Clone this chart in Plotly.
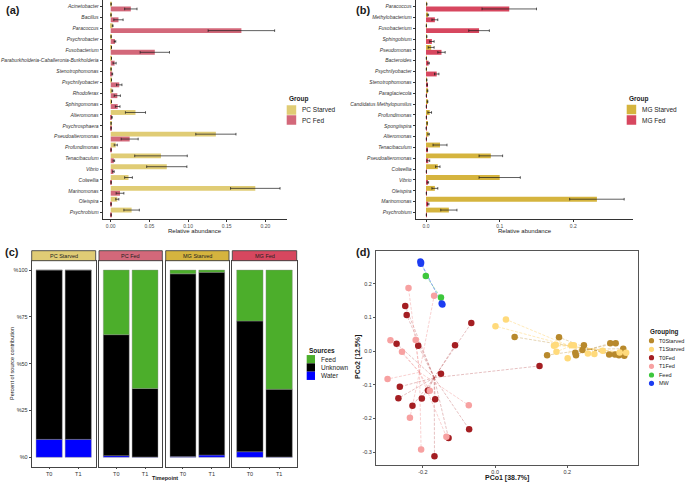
import numpy as np
import plotly.graph_objects as go

W, H = 685, 482
FONT = "Liberation Sans"

# ---------------- data ----------------
genera_a = ["Acinetobacter", "Bacillus", "Paracoccus", "Psychrobacter", "Fusobacterium",
            "Paraburkholderia-Caballeronia-Burkholderia", "Stenotrophomonas", "Psychrilyobacter",
            "Rhodoferax", "Sphingomonas", "Alteromonas", "Psychrosphaera", "Pseudoalteromonas",
            "Profundimonas", "Tenacibaculum", "Vibrio", "Colwellia", "Marinomonas", "Oleispira",
            "Psychrobium"]
pc_starved = [0.0005, 0.0004, 0.0025, 0.0005, 0.001, 0.001, 0.0005, 0.001, 0.002, 0.001,
              0.032, 0.0005, 0.136, 0.0065, 0.065, 0.0725, 0.023, 0.187, 0.0085, 0.027]
pc_starved_err = [0, 0, 0.0005, 0, 0, 0, 0, 0, 0.0005, 0,
                  0.013, 0, 0.026, 0.002, 0.034, 0.026, 0.005, 0.032, 0.002, 0.010]
pc_fed = [0.026, 0.010, 0.169, 0.0055, 0.057, 0.005, 0.002, 0.011, 0.0085, 0.009,
          0.0015, 0.0005, 0.0245, 0.0005, 0.004, 0.0035, 0.0005, 0.012, 0.0005, 0.0005]
pc_fed_err = [0.008, 0.006, 0.043, 0.001, 0.019, 0.002, 0.0005, 0.0035, 0.004, 0.003,
              0.0005, 0, 0.011, 0, 0.001, 0.001, 0, 0.005, 0, 0]

genera_b = ["Paracoccus", "Methylobacterium", "Fusobacterium", "Sphingobium", "Pseudomonas",
            "Bacteroides", "Psychrilyobacter", "Stenotrophomonas", "Paraglaciecola",
            "Candidatus Methylopumilus", "Profundimonas", "Spongiispira", "Alteromonas",
            "Tenacibaculum", "Pseudoalteromonas", "Colwellia", "Vibrio", "Oleispira",
            "Marinomonas", "Psychrobium"]
mg_starved = [0.001, 0.0025, 0.0005, 0.001, 0.007, 0.0005, 0.0005, 0.001, 0.002, 0.002,
              0.005, 0.0015, 0.0035, 0.019, 0.088, 0.016, 0.100, 0.012, 0.232, 0.031]
mg_starved_err = [0, 0.001, 0, 0, 0.004, 0, 0, 0, 0.0005, 0.0005,
                  0.0025, 0, 0.001, 0.0095, 0.016, 0.003, 0.028, 0.004, 0.037, 0.011]
mg_fed = [0.113, 0.012, 0.072, 0.008, 0.021, 0.0035, 0.0145, 0.0015, 0.0005, 0.0005,
          0.0005, 0.0003, 0.0005, 0.0015, 0.003, 0.0005, 0.0025, 0.0005, 0.003, 0.0005]
mg_fed_err = [0.037, 0.004, 0.014, 0.003, 0.005, 0.001, 0.003, 0.0005, 0, 0,
              0, 0, 0, 0.0005, 0.002, 0, 0.001, 0, 0.001, 0]

facets = ["PC Starved", "PC Fed", "MG Starved", "MG Fed"]
timepoints = ["T0", "T1"]
water_pct = [[9.6, 9.6], [0.9, 0.2], [0.4, 1.2], [3.0, 0.2]]
unknown_pct = [[90.4, 90.4], [64.6, 36.6], [97.6, 97.6], [69.8, 36.2]]
feed_pct = [[0.0, 0.0], [34.5, 63.2], [2.0, 1.2], [27.2, 63.6]]
pct_ticks = [0, 25, 50, 75, 100]
pct_ticktext = ["%0", "%25", "%50", "%75", "%100"]

t0starved_x = [0.054, 0.177, 0.144, 0.222, 0.224, 0.246, 0.242, 0.319, 0.334, 0.316, 0.332, 0.343, 0.355, 0.358]
t0starved_y = [0.042, 0.041, -0.012, -0.005, -0.012, 0.017, 0.003, 0.023, 0.023, -0.010, -0.010, -0.012, 0.007, -0.014]
t1starved_x = [0.001, 0.030, 0.163, 0.168, 0.170, 0.201, 0.211, 0.218, 0.257, 0.275, 0.298, 0.345, 0.363]
t1starved_y = [0.074, 0.094, 0.016, 0.019, -0.002, -0.021, 0.017, 0.017, -0.007, -0.009, 0.001, -0.004, -0.005]
t0fed_x = [-0.249, -0.245, -0.066, -0.273, -0.213, -0.111, -0.150, 0.123, -0.264, -0.268, -0.186, -0.203, -0.166, -0.229, -0.072, -0.129, -0.168]
t0fed_y = [0.134, 0.107, 0.083, 0.022, 0.016, 0.017, -0.067, -0.044, -0.106, -0.140, -0.117, -0.141, -0.143, -0.162, -0.232, -0.258, -0.312]
t1fed_x = [-0.240, -0.169, -0.290, -0.220, -0.258, -0.298, -0.181, -0.073, -0.236, -0.135, -0.205]
t1fed_y = [0.187, 0.164, 0.032, 0.033, -0.002, -0.083, -0.118, -0.161, -0.198, -0.254, -0.292]
feed_x = [-0.192, -0.150]
feed_y = [0.223, 0.159]
mw_x = [-0.207, -0.205, -0.206, -0.148, -0.146]
mw_y = [0.266, 0.262, 0.259, 0.141, 0.138]
groups_d = ["T0Starved", "T1Starved", "T0Fed", "T1Fed", "Feed", "MW"]

# ---------------- styles ----------------
PC_STARVED_COL = "#E0CC75"
PC_FED_COL = "#D3687A"
MG_STARVED_COL = "#D5B43E"
MG_FED_COL = "#D7475F"
facet_cols = [PC_STARVED_COL, PC_FED_COL, MG_STARVED_COL, MG_FED_COL]
source_names = ["Feed", "Unknown", "Water"]
source_cols = {"Feed": "#4CAE2B", "Unknown": "#000000", "Water": "#0000FF"}
group_cols = {"T0Starved": "#B8892C", "T1Starved": "#FFDA7B", "T0Fed": "#A41E22",
              "T1Fed": "#F7A1A1", "Feed": "#3DC73D", "MW": "#1C3CF2"}
line_cols = {"T0Starved": "rgba(184,137,44,0.45)", "T1Starved": "rgba(255,210,110,0.6)",
             "T0Fed": "rgba(164,30,34,0.35)", "T1Fed": "rgba(240,140,140,0.5)",
             "Feed": "rgba(60,190,60,0.5)", "MW": "rgba(110,150,240,0.6)"}


def fx(p):
    return p / W


def fy(p):
    return 1 - p / H


fig = go.Figure()
annotations = []
shapes = []


def ann(text, x, y, size, bold=False, xanchor="center", yanchor="middle", angle=0,
        color="#1a1a1a", italic=False):
    annotations.append(dict(text=("<b>%s</b>" % text) if bold else text, x=fx(x), y=fy(y),
                            xref="paper", yref="paper", showarrow=False, xanchor=xanchor,
                            yanchor=yanchor, textangle=angle,
                            font=dict(family=FONT, size=size, color=color,
                                      style="italic" if italic else "normal")))


# ---------------- panels a, b ----------------
def hbars(names, vals, errs, color, xa, ya, offset, name):
    fig.add_trace(go.Bar(name=name, y=names, x=vals, orientation="h", width=0.45, offset=offset,
                         marker=dict(color=color, line=dict(width=0)),
                         error_x=dict(type="data", array=errs, color="#1a1a1a",
                                      thickness=0.7, width=1.3),
                         xaxis=xa, yaxis=ya, showlegend=False))


hbars(genera_a, pc_starved, pc_starved_err, PC_STARVED_COL, "x", "y", -0.45, "PC Starved")
hbars(genera_a, pc_fed, pc_fed_err, PC_FED_COL, "x", "y", 0.0, "PC Fed")
hbars(genera_b, mg_starved, mg_starved_err, MG_STARVED_COL, "x2", "y2", -0.45, "MG Starved")
hbars(genera_b, mg_fed, mg_fed_err, MG_FED_COL, "x2", "y2", 0.0, "MG Fed")

# ---------------- panel c ----------------
facet_x = [(31.7, 95.7), (99.0, 162.3), (165.7, 229.0), (232.3, 296.7)]
for i, fname in enumerate(facets):
    xa, ya = "x%d" % (3 + i), "y%d" % (3 + i)
    w = np.array(water_pct[i])
    u = np.array(unknown_pct[i])
    f = np.array(feed_pct[i])
    for sname, vals, base in [("Water", w, np.zeros(2)), ("Unknown", u, w), ("Feed", f, w + u)]:
        fig.add_trace(go.Bar(name=sname, x=timepoints, y=vals, base=base, width=0.9,
                             marker=dict(color=source_cols[sname], line=dict(width=0.4, color="#8a8a8a")),
                             xaxis=xa, yaxis=ya, showlegend=False))

# ---------------- panel d ----------------
coords = {"T0Starved": (t0starved_x, t0starved_y), "T1Starved": (t1starved_x, t1starved_y),
          "T0Fed": (t0fed_x, t0fed_y), "T1Fed": (t1fed_x, t1fed_y),
          "Feed": (feed_x, feed_y), "MW": (mw_x, mw_y)}
for g in groups_d:
    gx, gy = coords[g]
    cx, cy = float(np.mean(gx)), float(np.mean(gy))
    lx, ly = [], []
    for a, b in zip(gx, gy):
        lx += [cx, a, None]
        ly += [cy, b, None]
    fig.add_trace(go.Scatter(x=lx, y=ly, mode="lines", xaxis="x7", yaxis="y7", showlegend=False,
                             line=dict(color=line_cols[g], width=0.8, dash="3px,1.5px"),
                             hoverinfo="skip"))
for g in groups_d:
    gx, gy = coords[g]
    fig.add_trace(go.Scatter(x=gx, y=gy, mode="markers", name=g, xaxis="x7", yaxis="y7",
                             showlegend=False,
                             marker=dict(color=group_cols[g], size=6.5, line=dict(width=0))))

# ---------------- axes ----------------
tick_font = dict(family=FONT, size=5, color="#4d4d4d")
lay = dict(width=W, height=H, margin=dict(l=0, r=0, t=0, b=0), barmode="overlay",
           paper_bgcolor="white", plot_bgcolor="white", font=dict(family=FONT))

base_ax = dict(showgrid=False, zeroline=False, automargin=False, fixedrange=True)

lay["xaxis"] = dict(base_ax, domain=[fx(103), fx(287)], range=[-0.010, 0.228], anchor="y",
                    showline=True, linecolor="#333", linewidth=0.8, ticks="outside", ticklen=2,
                    tickcolor="#333", tickwidth=0.6, tickvals=[0, 0.05, 0.10, 0.15, 0.20],
                    ticktext=["0.00", "0.05", "0.10", "0.15", "0.20"], tickfont=tick_font)
lay["yaxis"] = dict(base_ax, domain=[fy(219), 1], range=[19.6, -0.6], anchor="x", type="category",
                    showline=True, linecolor="#333", linewidth=0.8, ticks="outside", ticklen=2.5,
                    tickcolor="#333", tickwidth=0.6,
                    tickfont=dict(family=FONT, size=5, color="#333", style="italic"))
lay["xaxis2"] = dict(base_ax, domain=[fx(416), fx(633)], range=[-0.0136, 0.281], anchor="y2",
                     showline=True, linecolor="#333", linewidth=0.8, ticks="outside", ticklen=2,
                     tickcolor="#333", tickwidth=0.6, tickvals=[0, 0.1, 0.2],
                     ticktext=["0.0", "0.1", "0.2"], tickfont=tick_font)
lay["yaxis2"] = dict(base_ax, domain=[fy(219), 1], range=[19.6, -0.6], anchor="x2", type="category",
                     showline=True, linecolor="#333", linewidth=0.8, ticks="outside", ticklen=2.5,
                     tickcolor="#333", tickwidth=0.6,
                     tickfont=dict(family=FONT, size=5, color="#333", style="italic"))

for i in range(4):
    n = 3 + i
    x0, x1 = facet_x[i]
    lay["xaxis%d" % n] = dict(base_ax, domain=[fx(x0), fx(x1)], range=[-0.6, 1.6], anchor="y%d" % n,
                              type="category", showline=True, mirror=True, linecolor="#444",
                              linewidth=0.9, ticks="outside", ticklen=1.5, tickcolor="#444",
                              tickwidth=0.6, tickfont=dict(family=FONT, size=5.5, color="#333"))
    lay["yaxis%d" % n] = dict(base_ax, domain=[fy(466.7), fy(260.7)], range=[-5, 105],
                              anchor="x%d" % n, showline=True, mirror=True, linecolor="#444",
                              linewidth=0.9, tickvals=pct_ticks, ticktext=pct_ticktext,
                              ticks="outside" if i == 0 else "", ticklen=2, tickcolor="#444",
                              tickwidth=0.6, showticklabels=(i == 0),
                              tickfont=dict(family=FONT, size=5.5, color="#333"))
    # strip
    shapes.append(dict(type="rect", xref="paper", yref="paper", x0=fx(x0), x1=fx(x1),
                       y0=fy(260.7), y1=fy(250.7), fillcolor=facet_cols[i],
                       line=dict(color="#444", width=0.9), layer="above"))
    ann(facets[i], (x0 + x1) / 2, 255.7, 5.5, color="#222")

d_ticks_x = [-0.2, 0.0, 0.2]
d_ticks_y = [-0.3, -0.2, -0.1, 0.0, 0.1, 0.2]
lay["xaxis7"] = dict(base_ax, domain=[fx(376), fx(637.7)], range=[-0.330, 0.395], anchor="y7",
                     showline=True, mirror=True, linecolor="#555", linewidth=1, ticks="outside",
                     ticklen=1.5, tickcolor="#555", tickwidth=0.7, tickvals=d_ticks_x,
                     ticktext=["%.1f" % v for v in d_ticks_x],
                     tickfont=dict(family=FONT, size=5.5, color="#333"))
lay["yaxis7"] = dict(base_ax, domain=[fy(465), fy(251)], range=[-0.338, 0.297], anchor="x7",
                     showline=True, mirror=True, linecolor="#555", linewidth=1, ticks="outside",
                     ticklen=2, tickcolor="#555", tickwidth=0.7, tickvals=d_ticks_y,
                     ticktext=["%.1f" % v for v in d_ticks_y],
                     tickfont=dict(family=FONT, size=5.5, color="#333"))

# ---------------- titles / labels ----------------
ann("(a)", 4, 10, 11, bold=True, xanchor="left")
ann("(b)", 354, 9.5, 11, bold=True, xanchor="left")
ann("(c)", 3, 251.7, 11, bold=True, xanchor="left")
ann("(d)", 354, 251.7, 11, bold=True, xanchor="left")
ann("Relative abundance", 195, 230.7, 6)
ann("Relative abundance", 524.5, 230.7, 6)
ann("Percent of source contribution", 12, 364, 5.5, angle=-90)
ann("Timepoint", 165, 478.3, 5.5, bold=True)
ann("PCo1 [38.7%]", 507, 478.3, 7, bold=True)
ann("PCo2 [12.5%]", 358, 357, 7, bold=True, angle=-90)

# ---------------- legends ----------------
def rect_legend(title, tx, ty, names, cols, y_centers, sw=9.5, sh=9.5):
    ann(title, tx, ty, 6.5, bold=True, xanchor="left")
    for nm, c, yc in zip(names, cols, y_centers):
        shapes.append(dict(type="rect", xref="paper", yref="paper", x0=fx(tx), x1=fx(tx + sw),
                           y0=fy(yc + sh / 2), y1=fy(yc - sh / 2), fillcolor=c,
                           line=dict(width=0)))
        ann(nm, tx + sw + 3.5, yc, 6.5, xanchor="left", color="#222")


rect_legend("Group", 286.7, 98.7, ["PC Starved", "PC Fed"], [PC_STARVED_COL, PC_FED_COL], [110, 120])
rect_legend("Group", 626.7, 98.7, ["MG Starved", "MG Fed"], [MG_STARVED_COL, MG_FED_COL], [109.5, 120])
rect_legend("Sources", 306.7, 350.7, source_names, [source_cols[s] for s in source_names],
            [359.2, 367.5, 375.8], sw=8.3, sh=8.3)

ann("Grouping", 647.7, 332.3, 6.3, bold=True, xanchor="left")
for g, yc in zip(groups_d, [340.7, 349.3, 357.7, 366.3, 375.0, 383.3]):
    r = 2.6
    shapes.append(dict(type="circle", xref="paper", yref="paper", x0=fx(651.5 - r), x1=fx(651.5 + r),
                       y0=fy(yc + r), y1=fy(yc - r), fillcolor=group_cols[g], line=dict(width=0)))
    ann(g, 657, yc, 5.5, xanchor="left", color="#222")

lay["annotations"] = annotations
lay["shapes"] = shapes
fig.update_layout(**lay)
fig.write_html("out.html", config={"displayModeBar": False},
               post_script="document.body.style.margin='0';document.body.style.overflow='hidden';")
